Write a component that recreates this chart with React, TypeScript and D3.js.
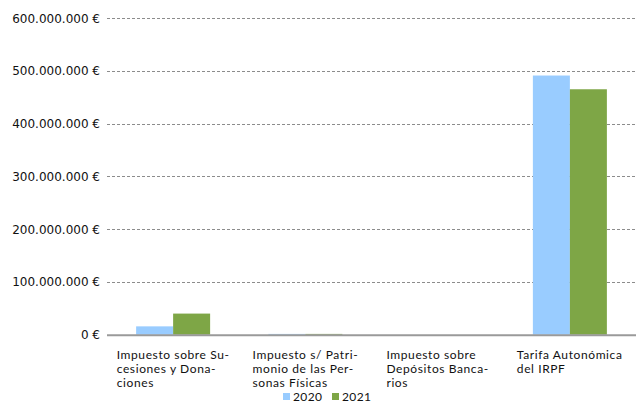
import React, { useEffect, useRef } from "react";
import * as d3 from "d3";

const categories = [
  ["Impuesto sobre Su-", "cesiones y Dona-", "ciones"],
  ["Impuesto s/ Patri-", "monio de las Per-", "sonas Físicas"],
  ["Impuesto sobre", "Depósitos Banca-", "rios"],
  ["Tarifa Autonómica", "del IRPF"],
];
const seriesNames = ["2020", "2021"];
const values2020 = [15800000, 1500000, 0, 491000000];
const values2021 = [40000000, 1500000, 0, 465000000];
const yTicks = [0, 100000000, 200000000, 300000000, 400000000, 500000000, 600000000];
const colors = ["#99CCFF", "#7EA646"];

const W = 636, H = 404;
const M = { left: 107, right: 0, top: 18, bottom: 69 };

function fmt(v: number) {
  const s = Math.round(v).toString().replace(/\B(?=(\d{3})+(?!\d))/g, ".");
  return s + " €";
}

export default function App() {
  const ref = useRef<SVGSVGElement>(null);
  useEffect(() => {
    const svg = d3.select(ref.current!);
    svg.selectAll("*").remove();
    const x = d3.scaleBand<number>().domain(d3.range(categories.length)).range([M.left, W - M.right]);
    const y = d3.scaleLinear().domain([0, 600000000]).range([H - M.bottom - 0.3, M.top]);
    const inner = d3.scaleBand<number>().domain([0, 1]).range([0, 74]);
    const g = svg.append("g");
    g.selectAll("line.grid").data(yTicks.filter(t => t > 0)).enter().append("line")
      .attr("x1", M.left).attr("x2", W).attr("y1", d => Math.round(y(d)) + 0.5).attr("y2", d => Math.round(y(d)) + 0.5)
      .attr("stroke", "#8c8c8c").attr("stroke-width", 1).attr("stroke-dasharray", "3,2");
    g.selectAll("text.tick").data(yTicks).enter().append("text")
      .attr("x", 100).attr("y", d => y(d) + 4.5).attr("text-anchor", "end")
      .attr("font-family", "DejaVu Sans").attr("font-size", 12).attr("fill", "#111")
      .text(d => fmt(d));
    const data = [values2020, values2021];
    data.forEach((vals, si) => {
      g.selectAll("rect.s" + si).data(vals).enter().append("rect")
        .attr("x", (_, i) => x(i)! + x.bandwidth() / 2 - 37 + inner(si)!)
        .attr("width", inner.bandwidth())
        .attr("y", d => y(d))
        .attr("height", d => y(0) - y(d))
        .attr("fill", colors[si]);
    });
    g.append("line").attr("x1", M.left).attr("x2", W).attr("y1", y(0) + 0.5).attr("y2", y(0) + 0.5)
      .attr("stroke", "#9a9a9a").attr("stroke-width", 2);
    const fs = 12;
    const ls = 0.6;
    const canvas = document.createElement("canvas");
    const ctx = canvas.getContext("2d")!;
    ctx.font = fs + "px Lato";
    categories.forEach((lines, i) => {
      const wmax = d3.max(lines, l => ctx.measureText(l).width + l.length * ls)!;
      const cx = x(i)! + x.bandwidth() / 2;
      lines.forEach((l, j) => {
        g.append("text").attr("font-family", "Lato").attr("font-size", fs).attr("fill", "#111")
          .attr("letter-spacing", ls)
          .attr("x", cx - wmax / 2).attr("y", 359 + j * 14.2).text(l);
      });
    });
    const lg = g.append("g");
    const lx = [283, 332];
    seriesNames.forEach((n, i) => {
      lg.append("rect").attr("x", lx[i]).attr("y", 393).attr("width", 7).attr("height", 7).attr("fill", colors[i]);
      lg.append("text").attr("x", lx[i] + 10).attr("y", 401).attr("font-family", "Lato").attr("font-size", 12).attr("letter-spacing", 0.4).attr("fill", "#111").text(n);
    });
  }, []);
  return (
    <svg ref={ref} width={W} height={H} style={{ position: "absolute", left: 0, top: 0, background: "#fff" }} />
  );
}
